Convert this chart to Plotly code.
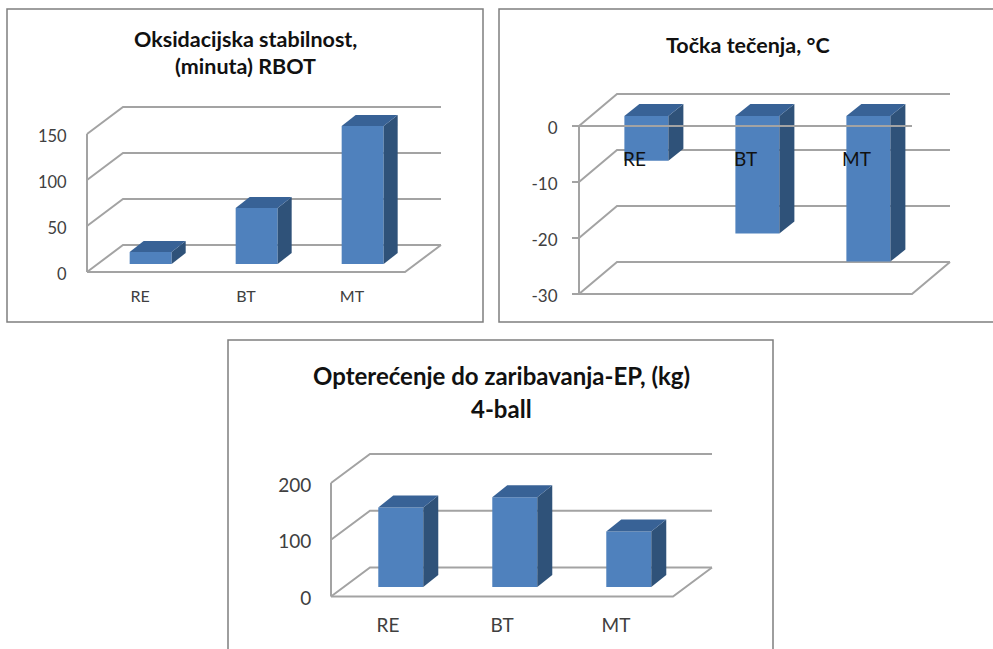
import plotly.graph_objects as go

W, H = 993, 649

categories = ["RE", "BT", "MT"]

rbot_values = [13, 61, 150]
rbot_ticks = [0, 50, 100, 150]

pour_values = [-8, -21, -26]
pour_ticks = [0, -10, -20, -30]

load_values = [140, 158, 98]
load_ticks = [0, 100, 200]

FRONT = "#4f81bd"
SIDE = "#2f5279"
TOP = "#386296"
GRID = "#a3a3a3"
PAD = 10

charts = [
    dict(values=rbot_values, ticks=rbot_ticks,
         title=["Oksidacijska stabilnost,", "(minuta) RBOT"],
         title_x=245, title_y=[39, 66], title_size=21.5,
         left=87, right=405, back_dx=36, back_dy=27, floor_y=272, top_y=134,
         lift=8, bar_w=42, bar_dx=14, bar_dy=11,
         tick_size=16.5, tick_len=6, cat_size=16, cat_y=285, cat_color="#404040",
         show_ticks=False, zero_front=False, frame=(7, 9, 483, 322)),
    dict(values=pour_values, ticks=pour_ticks,
         title=["Točka tečenja, °C"],
         title_x=748, title_y=[45], title_size=21.5,
         left=579, right=912, back_dx=38, back_dy=32, floor_y=294, top_y=126,
         lift=10, bar_w=44, bar_dx=15, bar_dy=12,
         tick_size=17, tick_len=7, cat_size=19, cat_y=146, cat_color="#111111",
         show_ticks=True, zero_front=True, frame=(499, 9, 1000, 322)),
    dict(values=load_values, ticks=load_ticks,
         title=["Opterećenje do zaribavanja-EP, (kg)", "4-ball"],
         title_x=501, title_y=[375, 408], title_size=24,
         left=331, right=673, back_dx=39, back_dy=29, floor_y=596.5, top_y=483,
         lift=9.5, bar_w=45, bar_dx=15, bar_dy=12,
         tick_size=19, tick_len=5, cat_size=19, cat_y=612, cat_color="#404040",
         show_ticks=False, zero_front=False, frame=(228, 340, 773, 660)),
]

fig = go.Figure()
shapes, annotations = [], []
layout_axes = {}


def grid_line(xs, ys, xref, yref, layer="below"):
    """Polyline on the given axes, drawn as one SVG path shape."""
    path = "M " + " L ".join(f"{x},{y}" for x, y in zip(xs, ys))
    return dict(type="path", path=path, xref=xref, yref=yref, layer=layer,
                line=dict(color=GRID, width=2))


for n, c in enumerate(charts, start=1):
    suffix = "" if n == 1 else str(n)
    xref, yref = f"x{suffix}", f"y{suffix}"

    low, high = min(c["ticks"]), max(c["ticks"])
    sx = (c["right"] - c["left"]) / len(categories)
    sy = (c["floor_y"] - c["top_y"]) / (high - low)

    # Oblique offsets of the back wall and the bar depth, in axis units
    back_x, back_y = c["back_dx"] / sx, c["back_dy"] / sy
    depth_x, depth_y = c["bar_dx"] / sx, c["bar_dy"] / sy
    lift = c["lift"] / sy
    shift_x = back_x * c["lift"] / c["back_dy"]
    width = c["bar_w"] / sx
    span = float(len(categories))

    x_range = [-PAD / sx, span + back_x + PAD / sx]
    y_range = [low - PAD / sy, high + back_y + PAD / sy]

    px_l = c["left"] - PAD
    px_r = c["right"] + c["back_dx"] + PAD
    px_b = c["floor_y"] + PAD
    px_t = c["top_y"] - c["back_dy"] - PAD

    layout_axes[f"xaxis{suffix}"] = dict(
        domain=[px_l / W, px_r / W], range=x_range, anchor="free",
        position=1 - c["cat_y"] / H, automargin=False,
        tickmode="array", tickvals=[i + 0.5 for i in range(len(categories))],
        ticktext=categories, ticks="", showgrid=False, zeroline=False,
        showline=False, fixedrange=True,
        tickfont=dict(family="Lato", size=c["cat_size"], color=c["cat_color"]),
    )
    layout_axes[f"yaxis{suffix}"] = dict(
        domain=[1 - px_b / H, 1 - px_t / H], range=y_range, anchor=xref,
        automargin=False,
        tickmode="array", tickvals=c["ticks"], ticktext=[str(t) for t in c["ticks"]],
        ticks="outside", ticklen=c["tick_len"], tickcolor="rgba(0,0,0,0)",
        ticklabelshift=2,
        showgrid=False, zeroline=False, showline=False, fixedrange=True,
        tickfont=dict(family="Lato", size=c["tick_size"], color="#404040"),
    )

    # Gridlines run along the left wall, then across the back wall
    for t in c["ticks"]:
        shapes.append(grid_line([0, back_x, span + back_x],
                                [t, t + back_y, t + back_y], xref, yref))
    # Vertical front edge and the floor outline
    shapes.append(grid_line([0, 0], [low, high], xref, yref))
    shapes.append(grid_line([0, span, span + back_x],
                            [low, low, low + back_y], xref, yref))
    if c["show_ticks"]:
        for t in c["ticks"]:
            shapes.append(grid_line([-7 / sx, 0], [t, t], xref, yref))

    centres = [i + 0.5 + shift_x for i in range(len(categories))]

    fig.add_trace(go.Bar(
        x=centres, y=c["values"], base=[lift] * len(categories), width=width,
        marker=dict(color=FRONT, line=dict(width=0)), xaxis=xref, yaxis=yref,
        showlegend=False, hoverinfo="skip",
    ))

    for xc, v in zip(centres, c["values"]):
        l, r = xc - width / 2, xc + width / 2
        hi, lo = lift + max(v, 0), lift + min(v, 0)
        fig.add_trace(go.Scatter(
            x=[r, r + depth_x, r + depth_x, r, r],
            y=[lo, lo + depth_y, hi + depth_y, hi, lo],
            fill="toself", fillcolor=SIDE, mode="lines", line=dict(width=0),
            xaxis=xref, yaxis=yref, showlegend=False, hoverinfo="skip",
        ))
        fig.add_trace(go.Scatter(
            x=[l, l + depth_x, r + depth_x, r, l],
            y=[hi, hi + depth_y, hi + depth_y, hi, hi],
            fill="toself", fillcolor=TOP, mode="lines", line=dict(width=0),
            xaxis=xref, yaxis=yref, showlegend=False, hoverinfo="skip",
        ))

    # The zero plane of the pour-point chart passes in front of its bars
    if c["zero_front"]:
        shapes.append(grid_line([-7 / sx, span], [0, 0], xref, yref, layer="above"))

    x0, y0, x1, y1 = c["frame"]
    shapes.append(dict(type="rect", xref="paper", yref="paper", layer="below",
                       x0=x0 / W, x1=x1 / W, y0=1 - y1 / H, y1=1 - y0 / H,
                       line=dict(color="#7f7f7f", width=1.5)))

    for line, y in zip(c["title"], c["title_y"]):
        annotations.append(dict(
            text=f"<b>{line}</b>", xref="paper", yref="paper",
            x=c["title_x"] / W, y=1 - y / H, xanchor="center", yanchor="middle",
            showarrow=False, font=dict(family="Lato", size=c["title_size"], color="#111111"),
        ))

fig.update_layout(
    width=W, height=H, autosize=False, margin=dict(l=0, r=0, t=0, b=0, pad=0, autoexpand=False),
    paper_bgcolor="white", plot_bgcolor="rgba(0,0,0,0)", showlegend=False,
    shapes=shapes, annotations=annotations, barmode="overlay",
    **layout_axes,
)

fig.write_html("out.html", config=dict(displayModeBar=False))
